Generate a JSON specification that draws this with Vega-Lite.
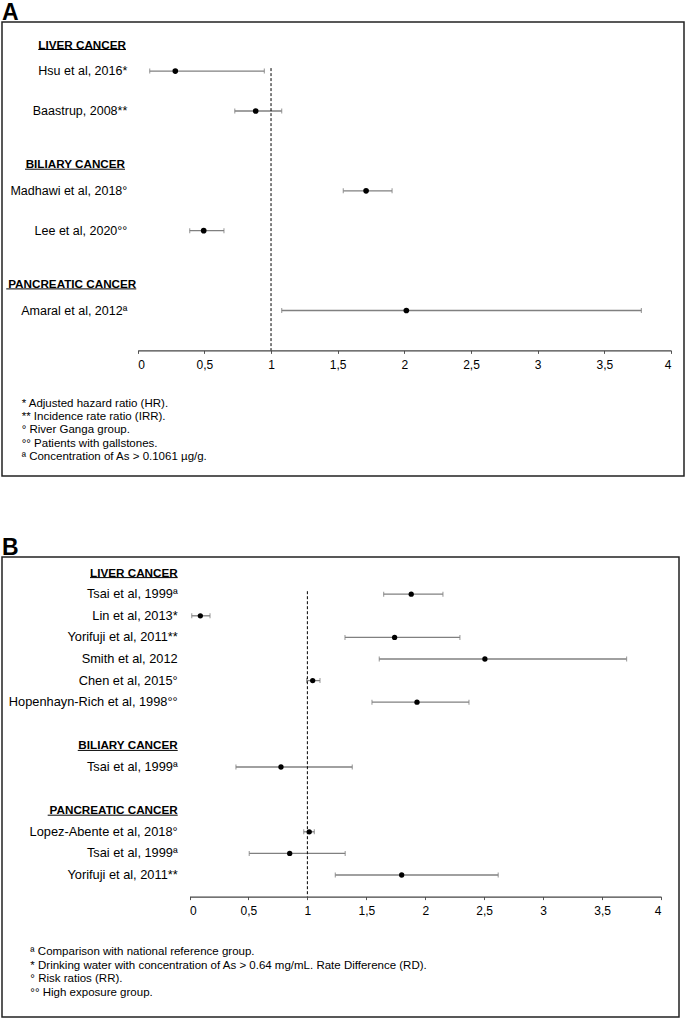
{
  "$schema": "https://vega.github.io/schema/vega-lite/v6.json",
  "padding": {"left": 1, "top": 0, "right": 0, "bottom": 0},
  "spacing": 58,
  "config": {
    "font": "Liberation Sans",
    "view": {"stroke": "#222222", "strokeWidth": 1.5},
    "title": {"anchor": "start", "fontSize": 23, "fontWeight": "bold", "color": "#000000", "font": "Liberation Sans", "offset": -2.5, "frame": "group"},
    "text": {"font": "Liberation Sans", "color": "#000000"}
  },
  "datasets": {
    "rowsA": [
      {"id": "hA1", "kind": "header", "label": "LIVER CANCER"},
      {"id": "a_hsu", "kind": "study", "label": "Hsu et al, 2016*", "est": 0.282, "lo": 0.09, "hi": 0.95},
      {"id": "a_baastrup", "kind": "study", "label": "Baastrup, 2008**", "est": 0.885, "lo": 0.728, "hi": 1.08},
      {"id": "hA2", "kind": "header", "label": "BILIARY CANCER"},
      {"id": "a_madhawi", "kind": "study", "label": "Madhawi et al, 2018°", "est": 1.713, "lo": 1.542, "hi": 1.908},
      {"id": "a_lee", "kind": "study", "label": "Lee et al, 2020°°", "est": 0.495, "lo": 0.39, "hi": 0.647},
      {"id": "hA3", "kind": "header", "label": "PANCREATIC CANCER"},
      {"id": "a_amaral", "kind": "study", "label": "Amaral et al, 2012ª", "est": 2.015, "lo": 1.08, "hi": 3.778},
      {"id": "fA1", "kind": "note", "label": "* Adjusted hazard ratio (HR)."},
      {"id": "fA2", "kind": "note", "label": "** Incidence rate ratio (IRR)."},
      {"id": "fA3", "kind": "note", "label": "° River Ganga group."},
      {"id": "fA4", "kind": "note", "label": "°° Patients with gallstones."},
      {"id": "fA5", "kind": "note", "label": "ª Concentration of As > 0.1061 µg/g."}
    ],
    "rowsB": [
      {"id": "hB1", "kind": "header", "label": "LIVER CANCER"},
      {"id": "b_tsai_l", "kind": "study", "label": "Tsai et al, 1999ª", "est": 1.881, "lo": 1.647, "hi": 2.15},
      {"id": "b_lin", "kind": "study", "label": "Lin et al, 2013*", "est": 0.092, "lo": 0.019, "hi": 0.174},
      {"id": "b_yori_l", "kind": "study", "label": "Yorifuji et al, 2011**", "est": 1.74, "lo": 1.319, "hi": 2.294},
      {"id": "b_smith", "kind": "study", "label": "Smith et al, 2012", "est": 2.506, "lo": 1.61, "hi": 3.708},
      {"id": "b_chen", "kind": "study", "label": "Chen et al, 2015°", "est": 1.045, "lo": 0.994, "hi": 1.107},
      {"id": "b_hopen", "kind": "study", "label": "Hopenhayn-Rich et al, 1998°°", "est": 1.93, "lo": 1.548, "hi": 2.371},
      {"id": "hB2", "kind": "header", "label": "BILIARY CANCER"},
      {"id": "b_tsai_b", "kind": "study", "label": "Tsai et al, 1999ª", "est": 0.776, "lo": 0.394, "hi": 1.381},
      {"id": "hB3", "kind": "header", "label": "PANCREATIC CANCER"},
      {"id": "b_lopez", "kind": "study", "label": "Lopez-Abente et al, 2018°", "est": 1.016, "lo": 0.969, "hi": 1.059},
      {"id": "b_tsai_p", "kind": "study", "label": "Tsai et al, 1999ª", "est": 0.85, "lo": 0.507, "hi": 1.321},
      {"id": "b_yori_p", "kind": "study", "label": "Yorifuji et al, 2011**", "est": 1.8, "lo": 1.237, "hi": 2.619},
      {"id": "fB1", "kind": "note", "label": "ª Comparison with national reference group."},
      {"id": "fB2", "kind": "note", "label": "* Drinking water with concentration of As > 0.64 mg/mL. Rate Difference (RD)."},
      {"id": "fB3", "kind": "note", "label": "° Risk ratios (RR)."},
      {"id": "fB4", "kind": "note", "label": "°° High exposure group."}
    ]
  },
  "vconcat": [
    {
      "title": {"text": "A"},
      "width": 682,
      "height": 454,
      "data": {"name": "rowsA"},
      "encoding": {
        "y": {"field": "id", "type": "nominal", "axis": null,
          "scale": {"type": "point", "padding": 0, "range": [22.5, 434.8],
            "domain": ["hA1", "gA1", "a_hsu", "gA2", "gA3", "a_baastrup", "gA4", "gA5", "gA6", "hA2", "gA7", "a_madhawi", "gA8", "gA9", "a_lee", "gA10", "gA11", "gA12", "hA3", "gA13", "a_amaral", "gA14", "gA15", "axisA", "gA16", "gA17", "gA18", "fA1", "fA2", "fA3", "fA4", "fA5"]}}
      },
      "layer": [
        {
          "transform": [{"filter": "datum.kind === 'study'"}],
          "mark": {"type": "rule", "color": "#808080", "strokeWidth": 1.3},
          "encoding": {
            "x": {"field": "lo", "type": "quantitative",
              "scale": {"domain": [0, 4], "range": [135.7, 669], "nice": false, "zero": false},
              "axis": {"orient": "bottom", "offset": -125.6, "values": [0, 0.5, 1, 1.5, 2, 2.5, 3, 3.5, 4],
                "labelExpr": "replace(format(datum.value, '~g'), '.', ',')", "title": null, "grid": false,
                "domainColor": "#444444", "domainWidth": 1.3, "tickColor": "#555555", "tickSize": 3, "tickWidth": 1,
                "labelFontSize": 12, "labelColor": "#000000", "labelPadding": 6, "labelFont": "Liberation Sans"}},
            "x2": {"field": "hi"}
          }
        },
        {
          "transform": [{"filter": "datum.kind === 'study'"}],
          "mark": {"type": "tick", "color": "#808080", "thickness": 1.2, "size": 5},
          "encoding": {"x": {"field": "lo", "type": "quantitative"}}
        },
        {
          "transform": [{"filter": "datum.kind === 'study'"}],
          "mark": {"type": "tick", "color": "#808080", "thickness": 1.2, "size": 5},
          "encoding": {"x": {"field": "hi", "type": "quantitative"}}
        },
        {
          "data": {"values": [{}]},
          "mark": {"type": "rule", "color": "#000000", "strokeWidth": 1, "strokeDash": [3, 2], "yOffset": -3},
          "encoding": {
            "x": {"datum": 1},
            "y": {"datum": "a_hsu", "type": "nominal"},
            "y2": {"datum": "axisA"}
          }
        },
        {
          "transform": [{"filter": "datum.kind === 'study'"}],
          "mark": {"type": "circle", "color": "#000000", "opacity": 1, "size": 32},
          "encoding": {"x": {"field": "est", "type": "quantitative"}}
        },
        {
          "transform": [{"filter": "datum.kind === 'study'"}],
          "mark": {"type": "text", "align": "right", "baseline": "middle", "fontSize": 12.5},
          "encoding": {"x": {"datum": -0.078}, "text": {"field": "label"}}
        },
        {
          "transform": [{"filter": "datum.kind === 'note'"}],
          "mark": {"type": "text", "align": "left", "baseline": "middle", "fontSize": 11.5},
          "encoding": {"x": {"datum": -0.87}, "text": {"field": "label"}}
        },
        {
          "transform": [{"filter": "datum.id === 'hA1'"}],
          "layer": [
            {"mark": {"type": "text", "align": "right", "baseline": "middle", "fontSize": 11.7, "fontWeight": "bold"},
             "encoding": {"x": {"datum": -0.088}, "text": {"field": "label"}}},
            {"mark": {"type": "rule", "color": "#000000", "strokeWidth": 1, "yOffset": 5, "y2Offset": 5},
             "encoding": {"x": {"datum": -0.746}, "x2": {"datum": -0.088}}}
          ]
        },
        {
          "transform": [{"filter": "datum.id === 'hA2'"}],
          "layer": [
            {"mark": {"type": "text", "align": "right", "baseline": "middle", "fontSize": 11.7, "fontWeight": "bold"},
             "encoding": {"x": {"datum": -0.095}, "text": {"field": "label"}}},
            {"mark": {"type": "rule", "color": "#000000", "strokeWidth": 1, "yOffset": 5, "y2Offset": 5},
             "encoding": {"x": {"datum": -0.845}, "x2": {"datum": -0.095}}}
          ]
        },
        {
          "transform": [{"filter": "datum.id === 'hA3'"}],
          "layer": [
            {"mark": {"type": "text", "align": "right", "baseline": "middle", "fontSize": 11.7, "fontWeight": "bold"},
             "encoding": {"x": {"datum": -0.0105}, "text": {"field": "label"}}},
            {"mark": {"type": "rule", "color": "#000000", "strokeWidth": 1, "yOffset": 5, "y2Offset": 5},
             "encoding": {"x": {"datum": -0.986}, "x2": {"datum": -0.0105}}}
          ]
        }
      ]
    },
    {
      "title": {"text": "B"},
      "width": 677,
      "height": 460,
      "data": {"name": "rowsB"},
      "resolve": {"scale": {"y": "independent"}},
      "layer": [
        {
          "encoding": {
            "y": {"field": "id", "type": "nominal", "axis": null,
              "scale": {"type": "point", "padding": 0, "range": [15.6, 339.6],
                "domain": ["hB1", "b_tsai_l", "b_lin", "b_yori_l", "b_smith", "b_chen", "b_hopen", "gB1", "hB2", "b_tsai_b", "gB2", "hB3", "b_lopez", "b_tsai_p", "b_yori_p", "axisB"]}}
          },
          "layer": [
            {
              "transform": [{"filter": "datum.kind === 'study'"}],
              "mark": {"type": "rule", "color": "#808080", "strokeWidth": 1.3},
              "encoding": {
                "x": {"field": "lo", "type": "quantitative",
                  "scale": {"domain": [0, 4], "range": [187.5, 659], "nice": false, "zero": false},
                  "axis": {"orient": "bottom", "offset": -120.4, "values": [0, 0.5, 1, 1.5, 2, 2.5, 3, 3.5, 4],
                    "labelExpr": "replace(format(datum.value, '~g'), '.', ',')", "title": null, "grid": false,
                    "domainColor": "#444444", "domainWidth": 1.3, "tickColor": "#555555", "tickSize": 3, "tickWidth": 1,
                    "labelFontSize": 12, "labelColor": "#000000", "labelPadding": 6, "labelFont": "Liberation Sans"}},
                "x2": {"field": "hi"}
              }
            },
            {
              "transform": [{"filter": "datum.kind === 'study'"}],
              "mark": {"type": "tick", "color": "#808080", "thickness": 1.2, "size": 5},
              "encoding": {"x": {"field": "lo", "type": "quantitative"}}
            },
            {
              "transform": [{"filter": "datum.kind === 'study'"}],
              "mark": {"type": "tick", "color": "#808080", "thickness": 1.2, "size": 5},
              "encoding": {"x": {"field": "hi", "type": "quantitative"}}
            },
            {
              "data": {"values": [{}]},
              "mark": {"type": "rule", "color": "#000000", "strokeWidth": 1, "strokeDash": [3, 2], "yOffset": -3},
              "encoding": {
                "x": {"datum": 1},
                "y": {"datum": "b_tsai_l", "type": "nominal"},
                "y2": {"datum": "axisB"}
              }
            },
            {
              "transform": [{"filter": "datum.kind === 'study'"}],
              "mark": {"type": "circle", "color": "#000000", "opacity": 1, "size": 28},
              "encoding": {"x": {"field": "est", "type": "quantitative"}}
            },
            {
              "transform": [{"filter": "datum.kind === 'study'"}],
              "mark": {"type": "text", "align": "right", "baseline": "middle", "fontSize": 12.8},
              "encoding": {"x": {"datum": -0.1}, "text": {"field": "label"}}
            },
            {
              "transform": [{"filter": "datum.kind === 'header'"}],
              "mark": {"type": "text", "align": "right", "baseline": "middle", "fontSize": 11.7, "fontWeight": "bold"},
              "encoding": {"x": {"datum": -0.1}, "text": {"field": "label"}}
            },
            {
              "transform": [{"filter": "datum.id === 'hB1'"}],
              "mark": {"type": "rule", "color": "#000000", "strokeWidth": 1, "yOffset": 5, "y2Offset": 5},
              "encoding": {"x": {"datum": -0.844}, "x2": {"datum": -0.1}}
            },
            {
              "transform": [{"filter": "datum.id === 'hB2'"}],
              "mark": {"type": "rule", "color": "#000000", "strokeWidth": 1, "yOffset": 5, "y2Offset": 5},
              "encoding": {"x": {"datum": -0.948}, "x2": {"datum": -0.1}}
            },
            {
              "transform": [{"filter": "datum.id === 'hB3'"}],
              "mark": {"type": "rule", "color": "#000000", "strokeWidth": 1, "yOffset": 5, "y2Offset": 5},
              "encoding": {"x": {"datum": -1.203}, "x2": {"datum": -0.1}}
            }
          ]
        },
        {
          "transform": [{"filter": "datum.kind === 'note'"}],
          "mark": {"type": "text", "align": "left", "baseline": "middle", "fontSize": 11.5},
          "encoding": {
            "x": {"datum": -1.35},
            "y": {"field": "id", "type": "nominal", "axis": null,
              "scale": {"type": "point", "padding": 0, "range": [394.6, 436.3], "domain": ["fB1", "fB2", "fB3", "fB4"]}},
            "text": {"field": "label"}
          }
        }
      ]
    }
  ]
}
